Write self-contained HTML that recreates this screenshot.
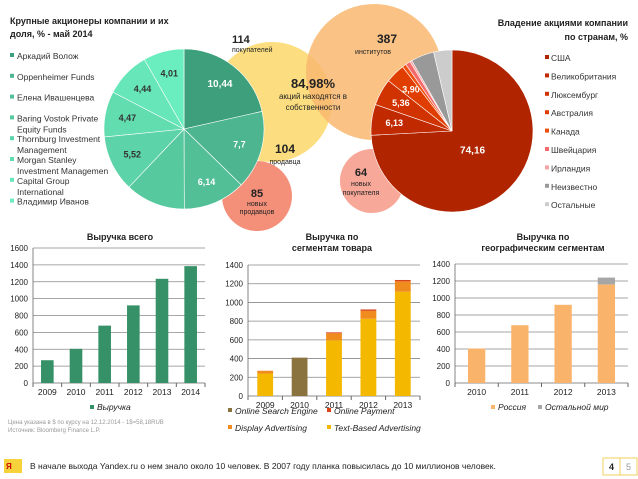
<!DOCTYPE html>
<html><head><meta charset="utf-8"><style>
body{margin:0;background:#fff;font-family:"Liberation Sans",sans-serif;}
svg{display:block}
text{font-family:"Liberation Sans",sans-serif}
</style></head><body>
<svg id="s" width="638" height="479" viewBox="0 0 638 479"></svg>
<script>
const shareNames=["Аркадий Волож","Oppenheimer Funds","Елена Ивашенцева","Baring Vostok Private|Equity Funds","Thornburg Investment|Management","Morgan Stanley|Investment Managemen","Capital Group|International","Владимир Иванов"];
const shareVals=[10.44,7.7,6.14,5.9,5.52,4.47,4.44,4.01];
const shareLabels=["10,44","7,7","6,14","","5,52","4,47","4,44","4,01"];
const countryNames=["США","Великобритания","Люксембург","Австралия","Канада","Швейцария","Ирландия","Неизвестно","Остальные"];
const countryVals=[74.16,6.13,5.36,3.9,0.8,1.0,0.4,4.6,3.65];
const countryLabels=["74,16","6,13","5,36","3,90","","","","",""];
const years1=["2009","2010","2011","2012","2013","2014"];
const revenue=[270,405,680,920,1235,1385];
const ticks1=[0,200,400,600,800,1000,1200,1400,1600];
const years2=["2009","2010","2011","2012","2013"];
const textAdv=[240,0,595,825,1115];
const displayAdv=[30,0,75,85,110];
const onlinePay=[0,0,10,15,15];
const searchEng=[0,410,0,0,0];
const ticks2=[0,200,400,600,800,1000,1200,1400];
const years3=["2010","2011","2012","2013"];
const russia=[405,680,920,1160];
const restWorld=[0,0,0,80];

const S=document.getElementById('s');const NS="http://www.w3.org/2000/svg";
function el(t,a,name,txt){const e=document.createElementNS(NS,t);for(const k in a)e.setAttribute(k,a[k]);


if(txt!==undefined)e.textContent=txt;S.appendChild(e);return e;}
function tx(x,y,s,o,name){o=o||{};return el('text',Object.assign({x:x,y:y,'font-size':o.fs||9,fill:o.fill||'#222','text-anchor':o.a||'start','font-weight':o.w||'normal','font-style':o.i||'normal'},{}),name||'label',s);}
function pie(cx,cy,r,vals,cols,labels,lc,name){const tot=vals.reduce((a,b)=>a+b,0);let a0=-Math.PI/2;
vals.forEach((v,i)=>{const a1=a0+v/tot*2*Math.PI;const x0=cx+r*Math.cos(a0),y0=cy+r*Math.sin(a0),x1=cx+r*Math.cos(a1),y1=cy+r*Math.sin(a1);
el('path',{d:`M${cx},${cy}L${x0},${y0}A${r},${r} 0 ${a1-a0>Math.PI?1:0} 1 ${x1},${y1}Z`,fill:cols[i],stroke:'#fff','stroke-width':0.6},name+'-slice-'+i);
if(labels[i]){const m=(a0+a1)/2,rr=v/tot>0.5?r*0.35:r*0.72;tx(cx+rr*Math.cos(m),cy+rr*Math.sin(m)+3,labels[i],{a:'middle',fs:i==0?10:9,w:'bold',fill:lc[i]},name+'-value-'+i);}
a0=a1;});}
// titles
tx(10,24,"Крупные акционеры компании и их",{w:'bold'},'shareholders-title');
tx(10,37,"доля, % - май 2014",{w:'bold'},'shareholders-title-2');
// bubbles
el('circle',{cx:272,cy:102,r:60,fill:'#fbd86a','fill-opacity':0.85},'buyers-bubble');
el('circle',{cx:374,cy:72,r:68,fill:'#f9b870','fill-opacity':0.85},'institutions-bubble');
el('circle',{cx:257,cy:196,r:35,fill:'#f4907a'},'new-sellers-bubble');
el('circle',{cx:372,cy:181,r:32,fill:'#f7a898'},'new-buyers-bubble');
// left pie
const gcol=["#3d9f7c","#4db58f","#52bf97","#57c99f","#5cd3a8","#61ddb0","#66e6b9","#6aeec0"];
pie(184,129,80,shareVals,gcol,shareLabels,["#fff","#fff","#fff","#333","#333","#333","#333","#333"],'shareholder-pie');
shareNames.forEach((n,i)=>{const y=59+i*20.8-(i>3?(i-3)*0:0);el('rect',{x:10,y:y-6,width:4,height:4,fill:gcol[i]},'shareholder-legend-swatch');
n.split('|').forEach((p,j)=>tx(17,y+j*11,p,{fs:8.5,fill:'#333'},'shareholder-legend-entry'));});
// bubble texts
tx(232,43,"114",{w:'bold',fs:11},'buyers-count');tx(232,52,"покупателей",{fs:7},'buyers-label');
tx(387,43,"387",{w:'bold',fs:12,a:'middle'},'institutions-count');tx(373,54,"институтов",{fs:7,a:'middle'},'institutions-label');
tx(313,88,"84,98%",{w:'bold',fs:13,a:'middle'},'own-percent');
tx(313,99,"акций находятся в",{fs:8,a:'middle'},'own-label');tx(313,110,"собственности",{fs:8,a:'middle'},'own-label-2');
tx(285,153,"104",{w:'bold',fs:12,a:'middle'},'sellers-count');tx(285,164,"продавца",{fs:7,a:'middle'},'sellers-label');
tx(257,197,"85",{w:'bold',fs:11,a:'middle'},'new-sellers-count');tx(257,206,"новых",{fs:7,a:'middle'},'new-sellers-label');tx(257,214,"продавцов",{fs:7,a:'middle'},'new-sellers-label-2');
tx(361,176,"64",{w:'bold',fs:11,a:'middle'},'new-buyers-count');tx(361,186,"новых",{fs:7,a:'middle'},'new-buyers-label');tx(361,195,"покупателя",{fs:7,a:'middle'},'new-buyers-label-2');
// right pie
const ccol=["#b12400","#c12a00","#d13300","#e03d00","#f04f10","#f46a6a","#f6a3a3","#999999","#cccccc"];
pie(452,131,81,countryVals,ccol,countryLabels,Array(9).fill('#fff'),'country-pie');
tx(628,26,"Владение акциями компании",{w:'bold',a:'end'},'country-title');tx(628,40,"по странам, %",{w:'bold',a:'end'},'country-title-2');
countryNames.forEach((n,i)=>{const y=61+i*18.4;el('rect',{x:545,y:y-6,width:4,height:4,fill:ccol[i]},'country-legend-swatch');tx(551,y,n,{fs:8.5,fill:'#333'},'country-legend-entry');});
// bar chart helper
function axes(x0,x1,y0,y1,max,ticks,name){const sy=v=>y0-(v/max)*(y0-y1);
ticks.forEach(t=>{el('line',{x1:x0,x2:x1,y1:sy(t),y2:sy(t),stroke:t?'#888':'#666','stroke-width':0.8},name+'-gridline');tx(x0-5,sy(t)+3,String(t),{fs:8,a:'end'},name+'-tick-label');});
el('line',{x1:x0,x2:x0,y1:y1,y2:y0,stroke:'#666','stroke-width':0.8},name+'-y-axis');return sy;}
function cats(x0,x1,y0,labs,name){const w=(x1-x0)/labs.length;labs.forEach((l,i)=>{tx(x0+w*(i+.5),y0+12,l,{fs:8.5,a:'middle'},name+'-x-label');el('line',{x1:x0+w*i,x2:x0+w*i,y1:y0,y2:y0+4,stroke:'#666'},name+'-x-tick');});el('line',{x1:x1,x2:x1,y1:y0,y2:y0+4,stroke:'#666'},name+'-x-tick');return w;}
// chart1
tx(120,240,"Выручка всего",{w:'bold',a:'middle'},'revenue-title');
let sy=axes(33,205,383,248,1600,ticks1,'revenue');let w=cats(33,205,383,years1,'revenue');
revenue.forEach((v,i)=>el('rect',{x:33+w*i+w*.28,y:sy(v),width:w*.44,height:383-sy(v),fill:'#379168'},'revenue-bar-'+years1[i]));
el('rect',{x:90,y:405,width:4,height:4,fill:'#379168'},'revenue-legend-swatch');tx(97,410,"Выручка",{fs:8.5,i:'italic'},'revenue-legend');
tx(8,424,"Цена указана в $ по курсу на 12.12.2014 - 1$=58,18RUB",{fs:6,fill:'#999'},'price-note');
tx(8,432,"Источник: Bloomberg Finance L.P.",{fs:6,fill:'#999'},'source-note');
// chart2
tx(332,240,"Выручка по",{w:'bold',a:'middle'},'segment-title');tx(332,251,"сегментам товара",{w:'bold',a:'middle'},'segment-title-2');
sy=axes(248,420,396,265,1400,ticks2,'segment');w=cats(248,420,396,years2,'segment');
const series=[[textAdv,'#f5b800','text-based'],[displayAdv,'#f08c1e','display'],[onlinePay,'#d9441a','payment'],[searchEng,'#8b7340','search']];
years2.forEach((y,i)=>{let b=0;series.forEach(s=>{const v=s[0][i];if(v>0){el('rect',{x:248+w*i+w*.27,y:sy(b+v),width:w*.46,height:sy(b)-sy(b+v),fill:s[1]},'segment-bar-'+s[2]+'-'+y);}b+=v;});});
[["Online Search Engine",'#8b7340',228,414],["Online Payment",'#d9441a',327,414],["Display Advertising",'#f08c1e',228,431],["Text-Based Advertising",'#f5b800',327,431]].forEach(l=>{el('rect',{x:l[2],y:l[3]-6,width:4,height:4,fill:l[1]},'segment-legend-swatch');tx(l[2]+7,l[3],l[0],{fs:8.5,i:'italic'},'segment-legend-entry');});
// chart3
tx(543,240,"Выручка по",{w:'bold',a:'middle'},'geo-title');tx(543,251,"географическим сегментам",{w:'bold',a:'middle'},'geo-title-2');
sy=axes(455,628,383,264,1400,ticks2,'geo');w=cats(455,628,383,years3,'geo');
years3.forEach((y,i)=>{el('rect',{x:455+w*i+w*.3,y:sy(russia[i]),width:w*.4,height:383-sy(russia[i]),fill:'#f9b36b'},'geo-bar-russia-'+y);
if(restWorld[i])el('rect',{x:455+w*i+w*.3,y:sy(russia[i]+restWorld[i]),width:w*.4,height:sy(russia[i])-sy(russia[i]+restWorld[i]),fill:'#a6a6a6'},'geo-bar-rest-'+y);});
el('rect',{x:491,y:405,width:4,height:4,fill:'#f9b36b'},'geo-legend-swatch');tx(498,410,"Россия",{fs:8.5,i:'italic'},'geo-legend-russia');
el('rect',{x:538,y:405,width:4,height:4,fill:'#a6a6a6'},'geo-legend-swatch');tx(545,410,"Остальной мир",{fs:8.5,i:'italic'},'geo-legend-rest');
// footer
el('rect',{x:4,y:459,width:18,height:14,fill:'#f7d23a'},'yandex-logo');tx(6,469,"Я",{fs:8,fill:'#c00',w:'bold'},'yandex-logo-text');
tx(30,469,"В начале выхода Yandex.ru о нем знало около 10 человек. В 2007 году планка повысилась до 10 миллионов человек.",{fs:8.5},'footer-text');
el('rect',{x:603,y:458,width:17,height:17,fill:'#fff',stroke:'#f0d060'},'page-4');tx(611.5,470,"4",{fs:9,a:'middle',w:'bold'},'page-4-label');
el('rect',{x:620,y:458,width:17,height:17,fill:'#fff',stroke:'#f0d060'},'page-5');tx(628.5,470,"5",{fs:9,a:'middle',fill:'#999'},'page-5-label');
</script>
</body></html>
